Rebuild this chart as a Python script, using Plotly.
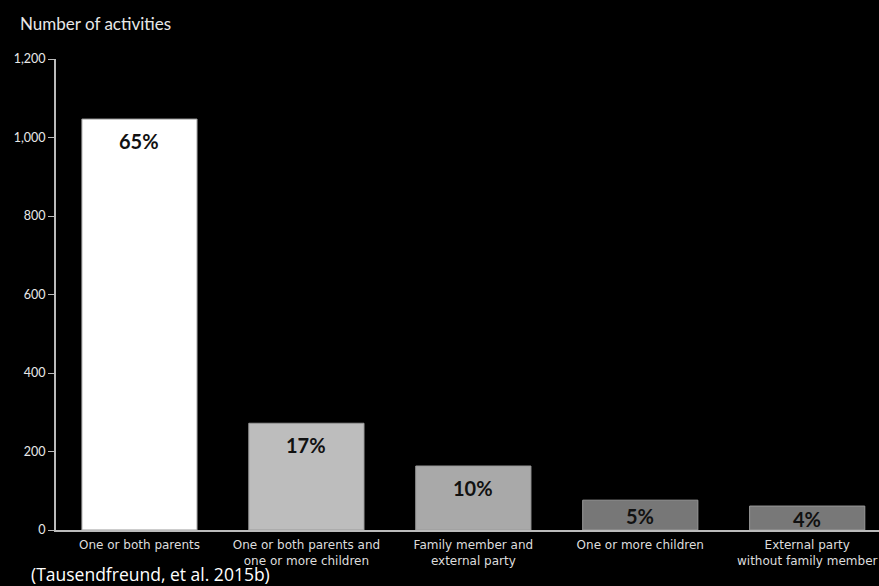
import plotly.graph_objects as go

categories = [
    "One or both parents",
    "One or both parents and<br>one or more children",
    "Family member and<br>external party",
    "One or more children",
    "External party<br>without family member",
]
values = [1047, 272, 163, 76, 61]
percent_labels = ["65%", "17%", "10%", "5%", "4%"]
bar_colors = ["#ffffff", "#bdbdbd", "#a9a9a9", "#777777", "#787878"]
y_tickvals = [0, 200, 400, 600, 800, 1000, 1200]
y_ticktext = ["0", "200", "400", "600", "800", "1,000", "1,200"]

W, H = 879, 586
ML, MR, MT, MB = 56, 0, 59, 56
YMAX = 1200
px_per_unit = (H - MT - MB) / YMAX

fig = go.Figure()
fig.add_trace(go.Bar(
    x=list(range(len(categories))),
    y=values,
    width=0.69,
    marker=dict(color=bar_colors, line=dict(color="#9a9a9a", width=1)),
    hoverinfo="skip",
))

annotations = []
for i, (v, t) in enumerate(zip(values, percent_labels)):
    bar_px = v * px_per_unit
    shift = -min(22, bar_px / 2 + 1)
    annotations.append(dict(
        x=i, y=v, xref="x", yref="y", text=t, showarrow=False,
        yanchor="middle", yshift=shift,
        font=dict(family="Lato, Noto Sans, sans-serif", size=20, color="#111111", weight="bold"),
    ))

pw = W - ML - MR
ph = H - MT - MB
def px_to_paper(x, y):
    return (x - ML) / pw, (H - MB - y) / ph

tx, ty = px_to_paper(18, 23)
annotations.append(dict(
    text="Number of activities", x=tx, y=ty, xref="paper", yref="paper",
    showarrow=False, xanchor="left", yanchor="middle",
    font=dict(family="Lato, Noto Sans, sans-serif", size=17, color="#e8e8e8")))
cx, cy = px_to_paper(29, 574)
annotations.append(dict(
    text="(Tausendfreund, et al. 2015b)", x=cx, y=cy, xref="paper", yref="paper",
    showarrow=False, xanchor="left", yanchor="middle",
    font=dict(family="Open Sans, Liberation Sans, sans-serif", size=17.5, color="#ffffff")))

fig.update_layout(
    width=W, height=H,
    paper_bgcolor="#000000",
    plot_bgcolor="#000000",
    margin=dict(l=ML, r=MR, t=MT, b=MB),
    showlegend=False,
    xaxis=dict(
        range=[-0.5, 4.43],
        tickvals=list(range(len(categories))),
        ticktext=categories,
        tickfont=dict(family="DejaVu Sans, Verdana, sans-serif", size=12, color="#dddddd"),
        ticklabelstandoff=3,
        showline=True, linecolor="#bbbbbb", linewidth=2,
        showgrid=False, zeroline=False,
        ticks="", ticklen=0,
    ),
    yaxis=dict(
        range=[0, YMAX],
        tickvals=y_tickvals,
        ticktext=y_ticktext,
        tickfont=dict(family="Lato, Noto Sans, sans-serif", size=12.5, color="#e8e8e8"),
        showline=True, linecolor="#bbbbbb", linewidth=2,
        ticks="outside", ticklen=6, tickcolor="#bbbbbb", tickwidth=1,
        showgrid=False, zeroline=False,
    ),
    annotations=annotations,
)

fig.write_html(
    "out.html",
    config={"displayModeBar": False},
    post_script="document.body.style.margin='0';document.body.style.background='#000';",
)
